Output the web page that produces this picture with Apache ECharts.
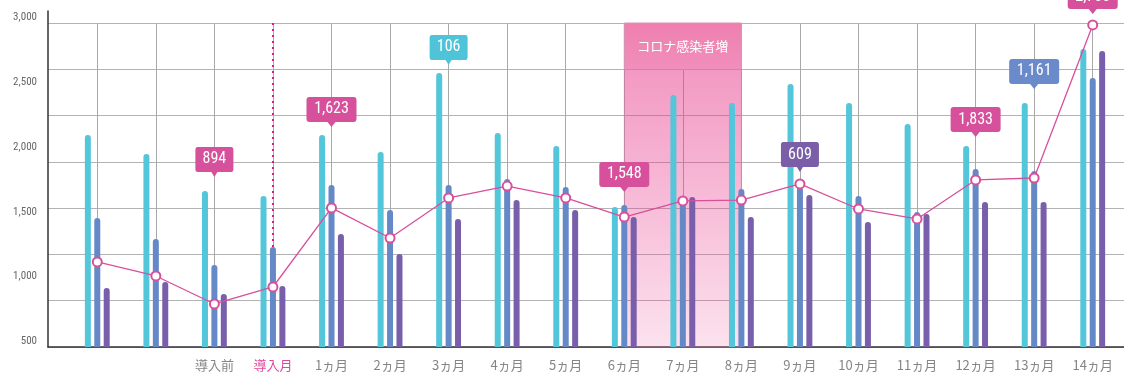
<!DOCTYPE html>
<html>
<head>
<meta charset="utf-8">
<script src="https://cdn.jsdelivr.net/npm/echarts@6/dist/echarts.min.js"></script>
<style>
  html, body { margin: 0; padding: 0; background: #fff; }
  #chart { width: 1124px; height: 376px; }
</style>
</head>
<body>
<div id="chart"></div>
<script>
// categories (first two groups have no label)
const categories = ['', ' ', '導入前', '導入月', '1ヵ月', '2ヵ月', '3ヵ月', '4ヵ月', '5ヵ月',
  '6ヵ月', '7ヵ月', '8ヵ月', '9ヵ月', '10ヵ月', '11ヵ月', '12ヵ月', '13ヵ月', '14ヵ月'];

// values
const cyanValues   = [2136, 1989, 1704, 1665, 2136, 2005, 2614, 2151, 2051, 1580, 2444, 2383, 2529, 2383, 2221, 2051, 2383, 2799];
const blueValues   = [1495, 1333, 1133, 1272, 1750, 1557, 1750, 1796, 1735, 1596, 1634, 1719, 1735, 1665, 1542, 1873, 1858, 2576];
const purpleValues = [955, 1002, 909, 971, 1372, 1218, 1488, 1634, 1557, 1503, 1657, 1503, 1673, 1465, 1526, 1619, 1619, 2784];
const lineValues   = [1156, 1048, 832, 963, 1573, 1341, 1650, 1742, 1650, 1503, 1627, 1634, 1758, 1565, 1488, 1789, 1804, 2985];

// callouts: category, text, colour key, value where the pointer tip sits
const calloutCats   = ['導入前', '1ヵ月', '3ヵ月', '6ヵ月', '9ヵ月', '12ヵ月', '13ヵ月', '14ヵ月'];
const calloutTexts  = ['894', '1,623', '106', '1,548', '609', '1,833', '1,161', '2,788'];
const calloutKinds  = ['pink', 'pink', 'cyan', 'pink', 'purple', 'pink', 'blue', 'pink'];
const calloutTips   = [1812, 2198, 2676, 1696, 1850, 2120, 2491, 3069];

// y axis ticks
const yMin = 500, yMax = 3000, yStep = 500;

// shaded period
const coronaLabel = 'コロナ感染者増';
const coronaFrom = '6ヵ月', coronaTo = '8ヵ月';
const coronaHeaderBottom = 2641;
const startMonth = '導入月';

const colors = {
  cyan: '#53c6d9',
  blue: '#6588c7',
  purple: '#785eab',
  pink: '#d84f9c',
  calloutCyan: '#4fc4d9',
  calloutBlue: '#6a8ac9',
  calloutPurple: '#7b5ea8'
};
const calloutColor = { pink: '#d6509c', cyan: colors.calloutCyan, blue: colors.calloutBlue, purple: colors.calloutPurple };

const numFont = '"Liberation Sans Narrow", "Roboto Condensed", Roboto, sans-serif';
const jpFont = '"Noto Sans CJK JP", "Noto Sans", sans-serif';

const calloutPath = 'path://M6,0L94,0Q100,0 100,6L100,44Q100,50 94,50L58,50L50,60L42,50L6,50Q0,50 0,44L0,6Q0,0 6,0Z';

const chart = echarts.init(document.getElementById('chart'), null, { renderer: 'canvas' });

const barBase = {
  type: 'bar',
  barWidth: 6,
  barGap: '57%',
  xAxisIndex: 0,
  yAxisIndex: 0,
  z: 2
};

chart.setOption({
  backgroundColor: '#fff',
  animation: false,
  grid: [
    { left: 68, right: 2, top: 23, bottom: 29 },   // data
    { left: 48, right: 0, top: 11, bottom: 29 }    // frame + horizontal rules
  ],
  xAxis: [
    {
      type: 'category',
      gridIndex: 0,
      data: categories,
      boundaryGap: true,
      axisLine: { show: false },
      axisTick: { show: false },
      axisLabel: {
        interval: 0,
        margin: 12,
        fontSize: 13,
        fontFamily: jpFont,
        color: (value) => value === startMonth ? '#e2459d' : '#858585'
      },
      splitLine: { show: true, alignWithLabel: true, lineStyle: { color: '#a9a9a9', width: 1 } }
    },
    {
      type: 'value',
      gridIndex: 1,
      min: 0,
      max: 1,
      axisLine: { show: true, onZero: false, lineStyle: { color: '#333', width: 1.5 } },
      axisTick: { show: false },
      axisLabel: { show: false },
      splitLine: { show: false }
    }
  ],
  yAxis: [
    {
      type: 'value',
      gridIndex: 0,
      min: yMin,
      max: yMax,
      interval: yStep,
      offset: 20,
      axisLine: { show: false },
      axisTick: { show: false },
      splitLine: { show: false },
      axisLabel: {
        margin: 11,
        fontSize: 11,
        fontFamily: numFont,
        color: '#666',
        verticalAlign: 'bottom',
        formatter: (v) => v.toLocaleString('en-US')
      }
    },
    {
      type: 'value',
      gridIndex: 1,
      min: 0,
      max: 7 * 336 / 324,
      interval: 1,
      axisLine: { show: true, onZero: false, lineStyle: { color: '#333', width: 1.5 } },
      axisTick: { show: false },
      axisLabel: { show: false },
      splitLine: { show: true, showMaxLine: false, lineStyle: { color: '#b3b3b3', width: 1 } }
    }
  ],
  series: [
    {
      ...barBase,
      name: 'cyan',
      data: cyanValues,
      itemStyle: { color: colors.cyan, borderRadius: [3, 3, 0, 0] }
    },
    {
      ...barBase,
      name: 'blue',
      data: blueValues,
      itemStyle: { color: colors.blue, borderRadius: [3, 3, 0, 0] },
      markLine: {
        silent: true,
        symbol: ['none', 'none'],
        label: { show: false },
        lineStyle: { color: '#e8158a', width: 2, type: [2, 4] },
        data: [[
          { coord: [startMonth, yMax] },
          { coord: [startMonth, blueValues[categories.indexOf(startMonth)]] }
        ]]
      }
    },
    {
      ...barBase,
      name: 'purple',
      data: purpleValues,
      itemStyle: { color: colors.purple, borderRadius: [3, 3, 0, 0] }
    },
    {
      type: 'line',
      name: 'line',
      xAxisIndex: 0,
      yAxisIndex: 0,
      data: lineValues,
      z: 4,
      symbol: 'circle',
      symbolSize: 9,
      lineStyle: { color: colors.pink, width: 1.3 },
      itemStyle: { color: '#fff', borderColor: colors.pink, borderWidth: 2 },
      markArea: {
        silent: true,
        z: 1,
        data: [
          [
            {
              xAxis: coronaFrom,
              yAxis: yMax,
              name: coronaLabel,
              itemStyle: {
                color: {
                  type: 'linear', x: 0, y: 0, x2: 0, y2: 1,
                  colorStops: [
                    { offset: 0, color: '#ee7fae' },
                    { offset: 1, color: '#f18fbc' }
                  ]
                },
                borderColor: '#d596b4',
                borderWidth: 1
              },
              label: {
                show: true,
                position: 'inside',
                color: '#fff',
                fontSize: 13,
                fontFamily: jpFont
              }
            },
            { xAxis: coronaTo, yAxis: coronaHeaderBottom }
          ],
          [
            {
              xAxis: coronaFrom,
              yAxis: coronaHeaderBottom,
              itemStyle: {
                color: {
                  type: 'linear', x: 0, y: 0, x2: 0, y2: 1,
                  colorStops: [
                    { offset: 0, color: 'rgba(232, 60, 140, 0.52)' },
                    { offset: 1, color: 'rgba(232, 60, 140, 0.15)' }
                  ]
                },
                borderColor: 'rgba(200, 140, 170, 0.5)',
                borderWidth: 1
              },
              label: { show: false }
            },
            { xAxis: coronaTo, yAxis: yMin }
          ]
        ]
      }
    },
    {
      type: 'scatter',
      name: 'callouts',
      xAxisIndex: 0,
      yAxisIndex: 0,
      clip: false,
      z: 6,
      symbol: calloutPath,
      symbolOffset: [0, '-50%'],
      data: calloutCats.map((cat, i) => ({
        name: calloutTexts[i],
        value: [cat, calloutTips[i]],
        symbolSize: [20 + 6 * calloutTexts[i].length, 30],
        itemStyle: { color: calloutColor[calloutKinds[i]], opacity: 1 }
      })),
      label: {
        show: true,
        position: 'inside',
        offset: [0, -2.5],
        formatter: '{b}',
        color: '#fff',
        fontSize: 16,
        fontFamily: numFont
      }
    }
  ]
});
</script>
</body>
</html>
